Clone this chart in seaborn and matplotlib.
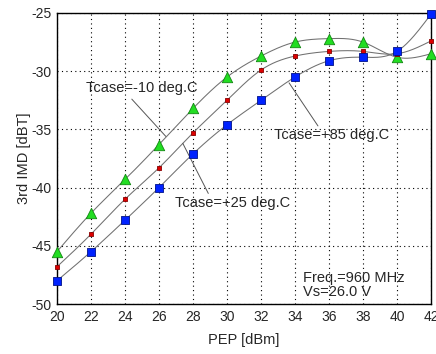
import numpy as np
import pandas as pd
import matplotlib
matplotlib.use("Agg")
import matplotlib.pyplot as plt
import seaborn as sns

# PEP sweep [dBm] and measured 3rd-order IMD [dBT] per case temperature
pep = [20, 22, 24, 26, 28, 30, 32, 34, 36, 38, 40, 42]
imd_m10 = [-45.5, -42.2, -39.3, -36.3, -33.2, -30.5, -28.7, -27.5, -27.2, -27.5, -28.8, -28.5]
imd_p25 = [-46.8, -44.0, -41.0, -38.3, -35.3, -32.5, -29.9, -28.7, -28.3, -28.3, -28.5, -27.4]
imd_p85 = [-48.0, -45.5, -42.8, -40.0, -37.1, -34.6, -32.5, -30.5, -29.1, -28.8, -28.3, -25.1]

x_ticks = [20, 22, 24, 26, 28, 30, 32, 34, 36, 38, 40, 42]
y_ticks = [-50, -45, -40, -35, -30, -25]


def natural_spline(x, y, n=400):
    """Smooth trace through the measured points (natural cubic spline)."""
    x = np.asarray(x, float)
    y = np.asarray(y, float)
    m = len(x)
    h = np.diff(x)
    A = np.zeros((m, m))
    r = np.zeros(m)
    A[0, 0] = A[-1, -1] = 1.0
    for i in range(1, m - 1):
        A[i, i - 1] = h[i - 1]
        A[i, i] = 2 * (h[i - 1] + h[i])
        A[i, i + 1] = h[i]
        r[i] = 3 * ((y[i + 1] - y[i]) / h[i] - (y[i] - y[i - 1]) / h[i - 1])
    c = np.linalg.solve(A, r)
    b = (y[1:] - y[:-1]) / h - h * (2 * c[:-1] + c[1:]) / 3
    d = (c[1:] - c[:-1]) / (3 * h)
    xs = np.linspace(x[0], x[-1], n)
    idx = np.clip(np.searchsorted(x, xs) - 1, 0, m - 2)
    t = xs - x[idx]
    ys = y[idx] + b[idx] * t + c[idx] * t ** 2 + d[idx] * t ** 3
    return xs, ys


sns.set_style("white")
plt.rcParams["font.family"] = ["Liberation Sans", "DejaVu Sans"]

fig = plt.figure(figsize=(4.36, 3.54), dpi=100)
ax = fig.add_axes([57 / 436, 50 / 354, 374 / 436, 291 / 354])

series = [
    ("-10", imd_m10, "^", "#22dd22", "#118811", 7.5),
    ("+25", imd_p25, "s", "#dd0000", "#880000", 3.2),
    ("+85", imd_p85, "s", "#0022ff", "#001188", 6.0),
]

for name, vals, mk, fc, ec, ms in series:
    xs, ys = natural_spline(pep, vals)
    curve = pd.DataFrame({"PEP": xs, "IMD": ys})
    sns.lineplot(data=curve, x="PEP", y="IMD", ax=ax, color="#707070",
                 lw=0.75, estimator=None, sort=False, zorder=2)
for name, vals, mk, fc, ec, ms in series:
    pts = pd.DataFrame({"PEP": pep, "IMD": vals})
    sns.scatterplot(data=pts, x="PEP", y="IMD", ax=ax, marker=mk,
                    color=fc, edgecolor=ec, linewidth=0.6,
                    s=ms ** 2, zorder=3, clip_on=False)

ax.set_xlim(20, 42)
ax.set_ylim(-50, -25)
ax.set_xticks(x_ticks)
ax.set_yticks(y_ticks)
ax.set_xticklabels([str(v) for v in x_ticks])
ax.set_yticklabels([str(v) for v in y_ticks])
ax.grid(True, color="black", linestyle=(0, (1, 3)), linewidth=0.8)
ax.tick_params(axis="both", length=0, labelsize=10, pad=4)
for s in ax.spines.values():
    s.set_color("black")
    s.set_linewidth(1.0)
ax.set_xlabel("PEP [dBm]", fontsize=10.5, labelpad=7)
ax.set_ylabel("3rd IMD [dBT]", fontsize=10.5, labelpad=0)

fs = 10.5
# Curve labels with leader lines
ax.text(21.7, -31.45, "Tcase=-10 deg.C", fontsize=fs, va="center", ha="left")
ax.plot([24.4, 26.4], [-32.4, -35.6], color="#555555", lw=0.7)
ax.text(32.76, -35.5, "Tcase=+85 deg.C", fontsize=fs, va="center", ha="left")
ax.plot([35.35, 33.65], [-34.7, -31.0], color="#555555", lw=0.7)
ax.text(26.94, -41.3, "Tcase=+25 deg.C", fontsize=fs, va="center", ha="left")
ax.plot([28.9, 27.4], [-40.5, -36.2], color="#555555", lw=0.7)

ax.text(34.47, -47.8, "Freq.=960 MHz", fontsize=fs, va="center", ha="left")
ax.text(34.47, -49.0, "Vs=26.0 V", fontsize=fs, va="center", ha="left")

fig.savefig("out.png", dpi=100)
